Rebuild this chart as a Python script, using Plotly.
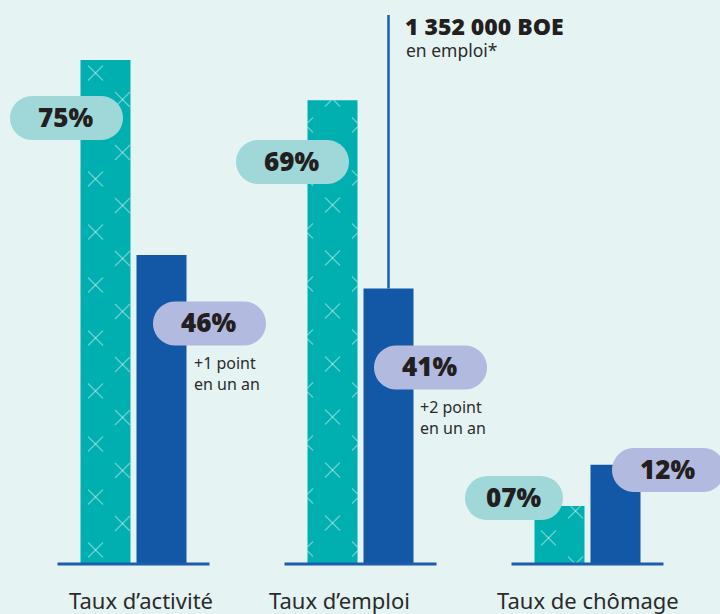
import math
import plotly.graph_objects as go

# ---------------- data ----------------
categories = ["Taux d’activité", "Taux d’emploi", "Taux de chômage"]
ensemble_values = [75, 69, 7]          # teal bars
boe_values = [46, 41, 12]              # blue bars (BOE)
ensemble_labels = ["75%", "69%", "07%"]
boe_labels = ["46%", "41%", "12%"]
evolution_notes = ["+1 point<br>en un an", "+2 point<br>en un an", None]
headline_value = "1 352 000 BOE"
headline_note = "en emploi*"

# ---------------- style ----------------
W, H = 720, 614
BG = "#e5f3f3"
TEAL = "#00afaf"
BLUE = "#1358a7"
LINE_BLUE = "#1c5dad"
PILL_TEAL = "#a0d8d9"
PILL_LAV = "#b3bae0"
INK = "#231f20"
TXT = "#2b2b2b"

CAT_PX = 227.0
X0 = -133.5 / CAT_PX
XR = [X0, X0 + W / CAT_PX]
BASE_PX = 564.0
S1 = 6.72
S2 = 8.27
scales = [S1, S1, S2]
yaxes = ["y", "y", "y2"]

BAR_W_PX = 50
TEAL_OFF_PX = -53
BLUE_OFF_PX = 3

fig = go.Figure()

for ax in ["y", "y2"]:
    idx = [i for i in range(3) if yaxes[i] == ax]
    fig.add_trace(go.Bar(x=idx, y=[ensemble_values[i] for i in idx],
                         width=BAR_W_PX / CAT_PX, offset=TEAL_OFF_PX / CAT_PX,
                         marker=dict(color=TEAL, line=dict(width=0)),
                         yaxis=ax, hoverinfo="skip", showlegend=False))
    fig.add_trace(go.Bar(x=idx, y=[boe_values[i] for i in idx],
                         width=BAR_W_PX / CAT_PX, offset=BLUE_OFF_PX / CAT_PX,
                         marker=dict(color=BLUE, line=dict(width=0)),
                         yaxis=ax, hoverinfo="skip", showlegend=False))

# ---------------- cross texture on teal bars ----------------
pattern_cols = [[(15, 14), (42, 40.5)],
                [(-2, 15), (25, 41), (52, 15)],
                [(14, 26), (41, 0)]]
STEP = 53.0
HALF = 7.5


def clip(p0, p1, xmin, xmax, ymin, ymax):
    x0, y0 = p0
    dx, dy = p1[0] - x0, p1[1] - y0
    t0, t1 = 0.0, 1.0
    for p, q in ((-dx, x0 - xmin), (dx, xmax - x0), (-dy, y0 - ymin), (dy, ymax - y0)):
        if p == 0:
            if q < 0:
                return None
        else:
            t = q / p
            if p < 0:
                t0 = max(t0, t)
            else:
                t1 = min(t1, t)
    if t0 >= t1:
        return None
    return (x0 + t0 * dx, y0 + t0 * dy), (x0 + t1 * dx, y0 + t1 * dy)


for ax in ["y", "y2"]:
    xs, ys = [], []
    for i in range(3):
        if yaxes[i] != ax:
            continue
        sc = scales[i]
        L = (i - X0) * CAT_PX + TEAL_OFF_PX
        R = L + BAR_W_PX
        top = BASE_PX - ensemble_values[i] * sc
        for cx_off, phase in pattern_cols[i]:
            cx = L + cx_off
            k = 0
            while True:
                cy = BASE_PX - (phase + STEP * k)
                if cy + HALF < top:
                    break
                for a, b in (((cx - HALF, cy - HALF), (cx + HALF, cy + HALF)),
                             ((cx - HALF, cy + HALF), (cx + HALF, cy - HALF))):
                    seg = clip(a, b, L, R, top, BASE_PX)
                    if seg:
                        for (px, py) in seg:
                            xs.append(X0 + px / CAT_PX)
                            ys.append((BASE_PX - py) / sc)
                        xs.append(None)
                        ys.append(None)
                k += 1
    fig.add_trace(go.Scatter(x=xs, y=ys, mode="lines", yaxis=ax,
                             line=dict(color="rgba(255,255,255,0.42)", width=1.3),
                             hoverinfo="skip", showlegend=False))

# ---------------- shapes ----------------
shapes = []
for i in range(3):
    shapes.append(dict(type="line", xref="x", yref="y",
                       x0=i - 76 / CAT_PX, x1=i + 76 / CAT_PX, y0=0, y1=0,
                       line=dict(color=LINE_BLUE, width=3), layer="above"))


def pill_path(cx, cy, w, h=44, n=20):
    r = h / 2
    xr = cx + w / 2 - r
    xl = cx - w / 2 + r
    pts = []
    for j in range(n + 1):
        a = -math.pi / 2 + math.pi * j / n
        pts.append((xr + r * math.cos(a), cy + r * math.sin(a)))
    for j in range(n + 1):
        a = math.pi / 2 + math.pi * j / n
        pts.append((xl + r * math.cos(a), cy + r * math.sin(a)))
    return "M " + " L ".join(f"{x:.2f},{y:.2f}" for x, y in pts) + " Z"


pill_dx_ens = [-67, -68, -73.5]
pill_dy_ens = [58, 61.7, -8]
pill_w_ens = [113, 113, 98]
pill_dx_boe = [76, 70, 81]
pill_dy_boe = [68.6, 79, 5.2]
pill_w_boe = [113, 113, 113]

annotations = []
PILL_FONT = dict(family="'Open Sans', Lato, sans-serif", size=26, color=INK, weight=800)

for i in range(3):
    for vals, labels, dxs, dys, ws, col in (
            (ensemble_values, ensemble_labels, pill_dx_ens, pill_dy_ens, pill_w_ens, PILL_TEAL),
            (boe_values, boe_labels, pill_dx_boe, pill_dy_boe, pill_w_boe, PILL_LAV)):
        shapes.append(dict(type="path", xref="x", yref=yaxes[i],
                           xsizemode="pixel", ysizemode="pixel",
                           xanchor=i, yanchor=vals[i],
                           path=pill_path(dxs[i], -dys[i], ws[i]),
                           fillcolor=col, line=dict(width=0), layer="above"))
        annotations.append(dict(x=i, y=vals[i], xref="x", yref=yaxes[i],
                                xshift=dxs[i] - 1, yshift=-dys[i] + 1, text=labels[i],
                                showarrow=False, xanchor="center", yanchor="middle",
                                font=PILL_FONT))

# evolution notes
evo_dx = [58.5, 57.5]
evo_dy = [118.6, 129]
for i, note in enumerate(evolution_notes):
    if note is None:
        continue
    annotations.append(dict(x=i, y=boe_values[i], xref="x", yref=yaxes[i],
                            xshift=evo_dx[i], yshift=-evo_dy[i], text=note,
                            showarrow=False, xanchor="left", yanchor="middle", align="left",
                            font=dict(family="Noto Sans, sans-serif", size=16, color=TXT)))

# headline line and text
HL_X = 1 + (BLUE_OFF_PX + BAR_W_PX / 2) / CAT_PX
shapes.append(dict(type="line", xref="x", yref="y", x0=HL_X, x1=HL_X,
                   y0=boe_values[1], y1=(BASE_PX - 15) / S1,
                   line=dict(color=LINE_BLUE, width=2.5), layer="above"))
annotations.append(dict(x=HL_X, xref="x", xshift=15, y=1 - 26 / H, yref="paper",
                        text=headline_value, showarrow=False, xanchor="left", yanchor="middle",
                        borderpad=0,
                        font=dict(family="'Open Sans', sans-serif", size=23, color=INK, weight=800)))
annotations.append(dict(x=HL_X, xref="x", xshift=16, y=1 - 50 / H, yref="paper",
                        text=headline_note, showarrow=False, xanchor="left", yanchor="middle",
                        borderpad=0,
                        font=dict(family="Noto Sans, sans-serif", size=17.5, color=TXT)))

# category labels
cat_dx = [7.5, -21, 0]
for i, c in enumerate(categories):
    annotations.append(dict(x=i, xref="x", xshift=cat_dx[i], y=1 - 600 / H, yref="paper",
                            text=c, showarrow=False, xanchor="center", yanchor="middle",
                            borderpad=0,
                            font=dict(family="Noto Sans, sans-serif", size=22, color=TXT)))

fig.update_layout(
    width=W, height=H, margin=dict(l=0, r=0, t=0, b=0),
    paper_bgcolor=BG, plot_bgcolor=BG,
    barmode="overlay", showlegend=False, hovermode=False,
    xaxis=dict(range=XR, visible=False, fixedrange=True),
    yaxis=dict(range=[-(H - BASE_PX) / S1, BASE_PX / S1], visible=False, fixedrange=True),
    yaxis2=dict(range=[-(H - BASE_PX) / S2, BASE_PX / S2], visible=False,
                overlaying="y", fixedrange=True),
    shapes=shapes, annotations=annotations,
)

fig.write_html("out.html", config={"displayModeBar": False},
               post_script="document.body.style.margin='0';document.body.style.overflow='hidden';")
